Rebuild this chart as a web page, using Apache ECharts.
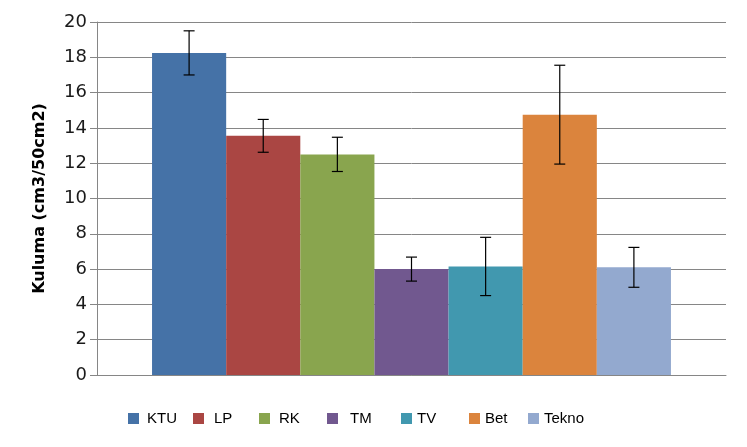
<!DOCTYPE html>
<html>
<head>
<meta charset="utf-8">
<script src="https://cdn.jsdelivr.net/npm/echarts@6/dist/echarts.min.js"></script>
<style>html,body{margin:0;padding:0;background:#fff}#c{width:747px;height:447px}</style>
</head>
<body>
<div id="c"></div>
<script>
// ---- data ----
var seriesNames = ['KTU', 'LP', 'RK', 'TM', 'TV', 'Bet', 'Tekno'];
var values      = [18.25, 13.55, 12.5, 6.0, 6.15, 14.75, 6.1];
var errors      = [1.25, 0.93, 0.97, 0.68, 1.65, 2.8, 1.13];
var colors      = ['#4572A7', '#AA4643', '#89A54E', '#71588F', '#4198AF', '#DB843D', '#93A9CF'];
var yTicks      = [0, 2, 4, 6, 8, 10, 12, 14, 16, 18, 20];
var category    = [''];

var catGap = 0.175;
var chart = echarts.init(document.getElementById('c'));

var series = seriesNames.map(function (n, i) {
  return {
    name: n, type: 'bar', data: [values[i]],
    barGap: 0, barCategoryGap: (catGap * 100) + '%',
    itemStyle: { color: colors[i] },
    z: 2
  };
});

var errData = seriesNames.map(function (n, i) {
  return [0, values[i] - errors[i], values[i] + errors[i], i];
});

series.push({
  type: 'custom',
  name: 'err',
  data: errData,
  encode: { x: 0, y: [1, 2] },
  z: 5,
  renderItem: function (params, api) {
    var idx = api.value(3);
    var lowP = api.coord([0, api.value(1)]);
    var highP = api.coord([0, api.value(2)]);
    var band = api.size([1, 0])[0];
    var groupW = band * (1 - catGap);
    var bw = groupW / seriesNames.length;
    var x = lowP[0] - groupW / 2 + (idx + 0.5) * bw;
    var cap = 5.5;
    var st = { stroke: '#000', lineWidth: 1.2 };
    return {
      type: 'group',
      children: [
        { type: 'line', shape: { x1: x, y1: lowP[1], x2: x, y2: highP[1] }, style: st },
        { type: 'line', shape: { x1: x - cap, y1: lowP[1], x2: x + cap, y2: lowP[1] }, style: st },
        { type: 'line', shape: { x1: x - cap, y1: highP[1], x2: x + cap, y2: highP[1] }, style: st }
      ]
    };
  }
});

var legendLeft = [128, 193, 259, 327, 401, 469, 528];
var legendPad  = [3, 5, 4, 7, 0, 0, 0];
var legends = seriesNames.map(function (n, i) {
  return {
    data: [n], left: legendLeft[i], top: 411,
    itemWidth: 11, itemHeight: 11, padding: 0,
    icon: 'rect',
    textStyle: { fontFamily: 'Liberation Sans', fontSize: 15, color: '#000', padding: [0, 0, 0, legendPad[i]] }
  };
});

chart.setOption({
  animation: false,
  backgroundColor: '#fff',
  grid: { left: 97, right: 21, top: 22, bottom: 72, containLabel: false },
  legend: legends,
  xAxis: {
    type: 'category', data: category,
    axisLine: { lineStyle: { color: '#868686', width: 1 } },
    axisTick: { show: false }, axisLabel: { show: false }
  },
  yAxis: {
    type: 'value', min: 0, max: 20, interval: 2,
    name: 'Kuluma (cm3/50cm2)', nameLocation: 'middle', nameGap: 49,
    nameTextStyle: { fontFamily: 'DejaVu Sans', fontWeight: 'bold', fontSize: 16, color: '#000' },
    axisLine: { show: true, lineStyle: { color: '#868686', width: 1 } },
    axisTick: { show: true, length: 7, lineStyle: { color: '#868686' } },
    axisLabel: {
      margin: 10, fontFamily: 'DejaVu Sans', fontSize: 18, color: '#1a1a1a',
      padding: [3, 0, 0, 0],
      formatter: function (v) { return yTicks.indexOf(v) >= 0 ? String(v) : ''; }
    },
    splitLine: { lineStyle: { color: '#868686', width: 1 } }
  },
  series: series
});
</script>
</body>
</html>
